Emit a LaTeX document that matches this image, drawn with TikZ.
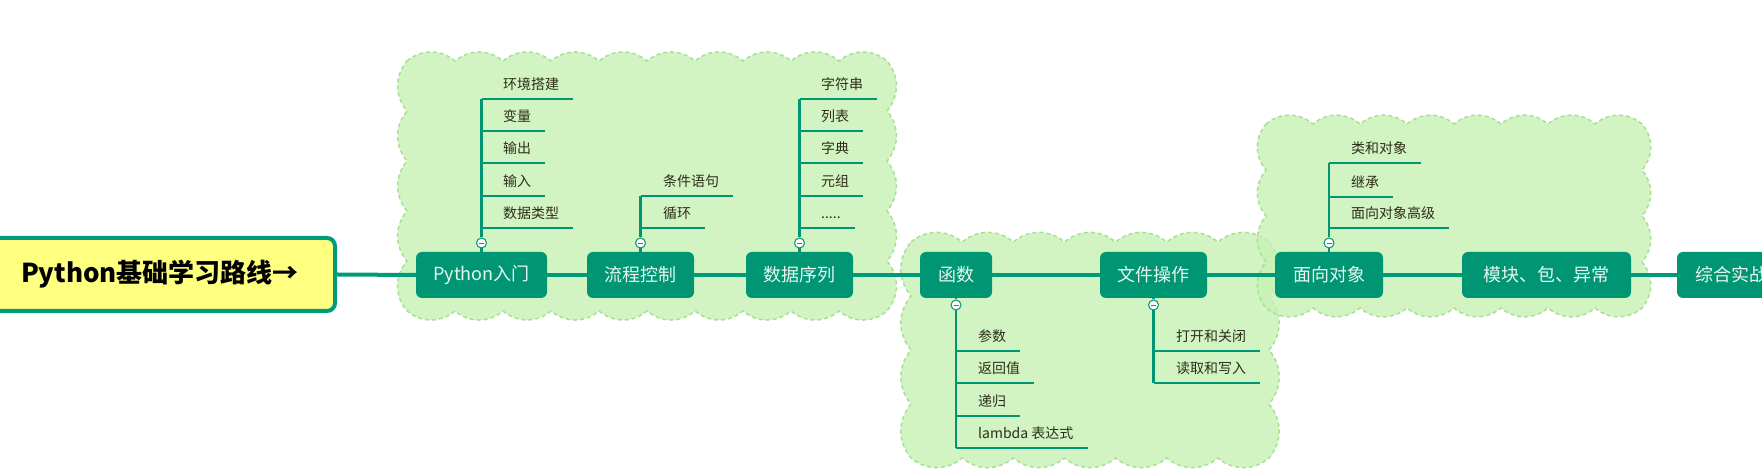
\documentclass[tikz,border=0pt]{standalone}
\usepackage{fontspec}
\setmainfont{Noto Sans CJK SC}
\definecolor{tealnode}{RGB}{0,150,116}
\definecolor{tealline}{RGB}{0,155,122}
\definecolor{cloudfill}{RGB}{199,241,180}
\definecolor{clouddash}{RGB}{168,224,148}
\definecolor{rootfill}{RGB}{255,255,128}
\definecolor{subtext}{RGB}{45,45,25}
\definecolor{nodetext}{RGB}{232,246,240}
\newcommand\fivedots{.....}
\newcommand\mycloud[6]{%
  \path[cloudsty] (#1,#4)
    \foreach \i in {1,...,#5}{ to[bend left=40] ({#1+\i*(#3-#1)/#5},#4) }
    \foreach \i in {1,...,#6}{ to[bend left=40] (#3,{#4-\i*(#4-#2)/#6}) }
    \foreach \i in {1,...,#5}{ to[bend left=40] ({#3-\i*(#3-#1)/#5},#2) }
    \foreach \i in {1,...,#6}{ to[bend left=40] (#1,{#2+\i*(#4-#2)/#6}) }
    -- cycle;}
\begin{document}
\begin{tikzpicture}[x=1pt,y=1pt,
  cloudsty/.style={fill=cloudfill, fill opacity=0.8, draw=clouddash, draw opacity=1, line width=1.5pt, dash pattern=on 4pt off 3pt},
  mainnode/.style={fill=tealnode, rounded corners=6pt, minimum height=46pt, inner sep=0pt, text=nodetext, font=\fontsize{18}{20}\selectfont},
  rootnode/.style={fill=rootfill, draw=tealline, line width=4pt, rounded corners=8pt, inner sep=0pt, text=black, font=\fontsize{26}{28}\selectfont\bfseries},
  mainline/.style={draw=tealline, line width=4pt},
  subline/.style={draw=tealnode, line width=2.5pt},
  sublabel/.style={anchor=south west, inner xsep=0pt, inner ysep=0pt, text height=12pt, text depth=9pt, text=subtext, font=\fontsize{14}{16}\selectfont},
  collapse/.style={circle, draw=tealnode, fill=white, line width=1pt, minimum size=10pt, inner sep=0pt,
    path picture={\draw[tealnode, line width=0.8pt] ([xshift=-2.5pt]path picture bounding box.center) -- ([xshift=2.5pt]path picture bounding box.center);}}
]
\useasboundingbox (0,0) rectangle (1762,470);
\clip (0,0) rectangle (1762,470);

% clouds
\mycloud{407}{159}{887}{409}{10}{5}
\mycloud{911}{12}{1269}{228}{7}{4}
\mycloud{1266}{162}{1642}{346}{8}{4}

% main nodes
\node[rootnode, minimum width=350pt, minimum height=73pt] (root) at (160,195.5) {Python基础学习路线→};
\node[mainnode, minimum width=131pt] (n1) at (481.5,195) {Python入门};
\node[mainnode, minimum width=107pt] (n2) at (640.5,195) {流程控制};
\node[mainnode, minimum width=107pt] (n3) at (799.5,195) {数据序列};
\node[mainnode, minimum width=72pt]  (n4) at (956,195) {函数};
\node[mainnode, minimum width=107pt] (n5) at (1153.5,195) {文件操作};
\node[mainnode, minimum width=108pt] (n6) at (1329,195) {面向对象};
\node[mainnode, minimum width=169pt] (n7) at (1546.5,195) {模块、包、异常};
\node[mainnode, minimum width=108pt] (n8) at (1731,195) {综合实战};

\draw[mainline] (root.east) -- (n1.west);
\draw[mainline] (n1.east) -- (n2.west);
\draw[mainline] (n2.east) -- (n3.west);
\draw[mainline] (n3.east) -- (n4.west);
\draw[mainline] (n4.east) -- (n5.west);
\draw[mainline] (n5.east) -- (n6.west);
\draw[mainline] (n6.east) -- (n7.west);
\draw[mainline] (n7.east) -- (n8.west);

% collapse markers
\node[collapse] (c1) at (481.5,227) {};
\node[collapse] (c2) at (640.5,227) {};
\node[collapse] (c3) at (799.5,227) {};
\node[collapse] (c4) at (956,165) {};
\node[collapse] (c5) at (1153.5,165) {};
\node[collapse] (c6) at (1329,227) {};
\draw[subline] (n1.north) -- (c1.south);
\draw[subline] (n2.north) -- (c2.south);
\draw[subline] (n3.north) -- (c3.south);
\draw[subline] (n4.south) -- (c4.north);
\draw[subline] (n5.south) -- (c5.north);
\draw[subline] (n6.north) -- (c6.south);

% Python入门
\foreach \t/\yy [count=\k] in {环境搭建/371, 变量/339, 输出/307, 输入/274, 数据类型/242}{
  \node[sublabel] (a\k) at (503,\yy) {\t};
  \draw[subline] (a\k.south west -| c1) -- ([xshift=14pt]a\k.south east);
}
\draw[subline] (c1.north) -- (c1.north |- a1.south);

% 流程控制
\foreach \t/\yy [count=\k] in {条件语句/274, 循环/242}{
  \node[sublabel] (b\k) at (663,\yy) {\t};
  \draw[subline] (b\k.south west -| c2) -- ([xshift=14pt]b\k.south east);
}
\draw[subline] (c2.north) -- (c2.north |- b1.south);

% 数据序列
\foreach \t/\yy [count=\k] in {字符串/371, 列表/339, 字典/307, 元组/274, \fivedots/242}{
  \node[sublabel] (d\k) at (821,\yy) {\t};
  \draw[subline] (d\k.south west -| c3) -- ([xshift=14pt]d\k.south east);
}
\draw[subline] (c3.north) -- (c3.north |- d1.south);

% 函数
\foreach \t/\yy [count=\k] in {参数/119, 返回值/87, 递归/54, lambda 表达式/22}{
  \node[sublabel] (f\k) at (978,\yy) {\t};
  \draw[subline] (f\k.south west -| c4) -- ([xshift=14pt]f\k.south east);
}
\draw[subline] (c4.south) -- (c4.south |- f4.south);

% 文件操作
\foreach \t/\yy [count=\k] in {打开和关闭/119, 读取和写入/87}{
  \node[sublabel] (g\k) at (1176,\yy) {\t};
  \draw[subline] (g\k.south west -| c5) -- ([xshift=14pt]g\k.south east);
}
\draw[subline] (c5.south) -- (c5.south |- g2.south);

% 面向对象
\foreach \t/\yy [count=\k] in {类和对象/307, 继承/273, 面向对象高级/242}{
  \node[sublabel] (h\k) at (1351,\yy) {\t};
  \draw[subline] (h\k.south west -| c6) -- ([xshift=14pt]h\k.south east);
}
\draw[subline] (c6.north) -- (c6.north |- h1.south);
\end{tikzpicture}
\end{document}
